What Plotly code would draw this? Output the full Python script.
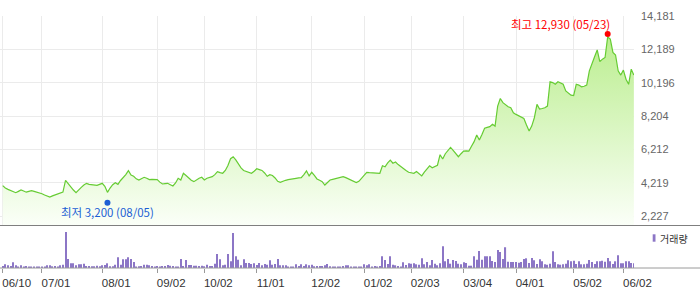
import plotly.graph_objects as go

# ---- data ----
close = [
    4040, 3900, 3820, 3760, 3680, 3620, 3700, 3780, 3720, 3650,
    3700, 3740, 3700, 3660, 3620, 3560, 3480, 3420, 3360, 3430,
    3480, 3520, 3600, 3660, 4360, 4150, 3940, 3780, 3620, 3800,
    3940, 4080, 4180, 4120, 4100, 4080, 4060, 4120, 4180, 4000,
    3640, 3900, 4100, 4220, 4120, 4350, 4500, 4700, 4940, 4680,
    4600, 4450, 4380, 4460, 4540, 4480, 4400, 4420, 4420, 4400,
    4250, 4140, 4160, 4180, 4100, 4020, 4200, 4480, 4380, 4780,
    4650, 4500, 4360, 4280, 4400, 4480, 4540, 4380, 4480, 4520,
    4580, 4700, 4880, 4820, 4780, 4950, 5250, 5650, 5770, 5580,
    5350, 5100, 4950, 4900, 4850, 4780, 4900, 5050, 5000, 4950,
    4800, 4600, 4700, 4650, 4500, 4300, 4240, 4320, 4360, 4400,
    4440, 4480, 4480, 4500, 4520, 4700, 4920, 4620, 4840, 4650,
    4440, 4360, 4280, 4080, 4250, 4380, 4420, 4460, 4500, 4540,
    4580, 4520, 4440, 4360, 4280, 4220, 4300, 4500, 4700, 4840,
    4820, 4820, 4800, 4780, 4780, 5230, 5170, 5400, 5570, 5380,
    5450, 5300, 5170, 5050, 4950, 4840, 4800, 4780, 4880, 4750,
    4620, 4850, 5050, 5230, 5110, 5200, 5260, 5890, 5630, 5950,
    6150, 6330, 6150, 5950, 5770, 5950, 6110, 6120, 6110, 6400,
    6670, 7070, 6770, 7100, 7470, 7520, 7570, 7710, 7600, 8800,
    9250, 9000, 8850, 8760, 8700, 8400, 8300, 8220, 8150, 8060,
    7670, 7310, 7600, 8100, 8900, 8620, 8650, 8700, 8800, 10250,
    10200, 10100, 10250, 10150, 10100, 9700, 9560, 9450, 9420, 10100,
    10050, 9950, 9980, 10050, 10900, 11400, 11750, 12150, 11450, 11600,
    11700, 12930, 12800, 12000, 11850, 10900, 10650, 10950, 10400, 10100,
    11000, 10650,
]

volume = [
    200, 370, 270, 200, 570, 270, 100, 270, 130, 200,
    130, 100, 100, 100, 100, 100, 130, 270, 270, 170,
    200, 100, 270, 330, 3600, 900, 470, 470, 270, 370,
    370, 430, 200, 200, 170, 170, 230, 170, 270, 300,
    470, 170, 170, 330, 1070, 330, 870, 870, 1070, 900,
    600, 130, 170, 200, 330, 330, 270, 200, 130, 200,
    130, 200, 200, 300, 230, 200, 130, 130, 900, 200,
    800, 300, 300, 230, 230, 200, 230, 170, 330, 200,
    200, 430, 1400, 870, 270, 330, 1400, 670, 3500, 1170,
    830, 270, 870, 500, 500, 400, 470, 300, 500, 270,
    400, 330, 770, 330, 400, 900, 270, 270, 270, 130,
    130, 130, 370, 200, 370, 200, 370, 270, 330, 170,
    200, 200, 200, 270, 400, 170, 130, 100, 130, 130,
    200, 270, 270, 130, 130, 130, 130, 130, 370, 270,
    370, 130, 200, 130, 200, 1170, 800, 400, 1170, 330,
    270, 200, 130, 570, 300, 470, 430, 470, 370, 330,
    970, 370, 600, 270, 800, 430, 270, 470, 2170, 670,
    900, 430, 800, 700, 430, 370, 570, 500, 230, 230,
    1170, 830, 1700, 830, 1170, 1170, 1170, 700, 600, 1800,
    1600, 900, 2070, 630, 600, 600, 600, 530, 600, 900,
    970, 500, 1000, 770, 400, 870, 670, 370, 330, 430,
    1670, 600, 370, 330, 370, 430, 770, 670, 730, 400,
    670, 370, 370, 430, 800, 600, 400, 670, 670, 730,
    630, 1000, 670, 400, 670, 1270, 470, 470, 670, 670,
    500, 470,
]

tick_idx = [0, 15, 38, 59, 77, 97, 118, 138, 156, 176, 196, 218, 237]
tick_labels = ["06/10", "07/01", "08/01", "09/02", "10/02", "11/01", "12/02",
               "01/02", "02/03", "03/04", "04/01", "05/02", "06/02"]
price_ticks = [2227, 4219, 6212, 8204, 10196, 12189, 14181]

high_val, high_idx, high_date = 12930, 231, "05/23"
low_val, low_idx, low_date = 3200, 40, "08/05"

# ---- layout constants ----
W, H = 700, 289
ML, MR, MT, MB = 0, 66, 16, 21
PW = W - ML - MR
PH = H - MT - MB
split = (PH - (225.5 - MT)) / PH          # boundary between panels (paper y)
y_min, y_max = 1659, 14181
x_rng = [-1.03, 241.05]
vol_max = 4250

x = list(range(len(close)))

fig = go.Figure()
fig.add_trace(go.Scatter(
    x=x, y=close, mode="lines",
    line=dict(color="#66cc33", width=1.2),
    fill="tozeroy",
    fillgradient=dict(type="vertical",
                      colorscale=[[0, "#fbfff8"], [1, "#b4ec84"]],
                      start=y_min, stop=y_max),
    xaxis="x", yaxis="y", hoverinfo="skip",
))
fig.add_trace(go.Bar(
    x=x, y=volume, width=0.42,
    marker=dict(color="#8c76c6", line=dict(width=0)),
    xaxis="x2", yaxis="y2", hoverinfo="skip",
))

grid = "#ebebeb"
fig.update_layout(
    width=W, height=H,
    margin=dict(l=ML, r=MR, t=MT, b=MB, pad=0),
    paper_bgcolor="white", plot_bgcolor="white",
    showlegend=False, hovermode=False,
    font=dict(family="Liberation Sans, Arial, sans-serif"),
    xaxis=dict(domain=[0, 1], range=x_rng, anchor="y",
               tickvals=tick_idx, showticklabels=False, ticks="",
               showgrid=True, gridcolor=grid, gridwidth=1,
               zeroline=False, showline=False),
    yaxis=dict(domain=[split, 1], range=[y_min, y_max], side="right",
               tickvals=price_ticks,
               ticktext=[f"{v:,}" for v in price_ticks],
               tickfont=dict(size=11, color="#666666"),
               ticks="", ticklabelstandoff=6,
               showgrid=True, gridcolor=grid, gridwidth=1,
               zeroline=False, showline=False),
    xaxis2=dict(domain=[0, 1], range=x_rng, anchor="y2",
                tickvals=tick_idx, ticktext=tick_labels,
                tickfont=dict(size=11.5, color="#333333"),
                ticks="outside", ticklen=4, tickcolor="#999999",
                ticklabelshift=14,
                showgrid=False, zeroline=False, showline=False),
    yaxis2=dict(domain=[0, split], range=[0, vol_max], visible=False,
                showgrid=False, zeroline=False),
)

shapes = [
    dict(type="line", xref="paper", yref="paper", x0=0, x1=W / PW,
         y0=split, y1=split, line=dict(color="#7f7f7f", width=1)),
    dict(type="line", xref="paper", yref="paper", x0=0, x1=W / PW,
         y0=0, y1=0, line=dict(color="#9a9a9a", width=1)),
    dict(type="circle", xref="x", yref="y",
         xsizemode="pixel", ysizemode="pixel",
         xanchor=high_idx, yanchor=high_val, x0=-3, x1=3, y0=0, y1=6,
         fillcolor="#ff0000", line=dict(width=0)),
    dict(type="circle", xref="x", yref="y",
         xsizemode="pixel", ysizemode="pixel",
         xanchor=low_idx, yanchor=low_val, x0=-3, x1=3, y0=-6, y1=0,
         fillcolor="#1c5fd4", line=dict(width=0)),
    dict(type="rect", xref="paper", yref="paper",
         x0=652.7 / PW, x1=655.5 / PW,
         y0=(MT + PH - 241.7) / PH, y1=(MT + PH - 234.3) / PH,
         fillcolor="#8c76c6", line=dict(width=0)),
]
fig.update_layout(shapes=shapes)

kfont = "Noto Sans CJK KR, sans-serif"
fig.add_annotation(x=high_idx, y=high_val, xref="x", yref="y",
                   text=f"최고 {high_val:,} ({high_date})",
                   xanchor="right", yanchor="middle", xshift=4, yshift=13,
                   showarrow=False,
                   font=dict(family=kfont, size=11.5, color="#ff0000"))
fig.add_annotation(x=low_idx, y=low_val, xref="x", yref="y",
                   text=f"최저 {low_val:,} ({low_date})",
                   xanchor="center", yanchor="middle", yshift=-12.6,
                   showarrow=False,
                   font=dict(family=kfont, size=11.5, color="#1c5fd4"))
fig.add_annotation(x=658 / PW, y=(MT + PH - 238) / PH, xref="paper", yref="paper",
                   text="거래량", xanchor="left", yanchor="middle",
                   showarrow=False,
                   font=dict(family=kfont, size=10, color="#333333"))

fig.write_html("out.html")
